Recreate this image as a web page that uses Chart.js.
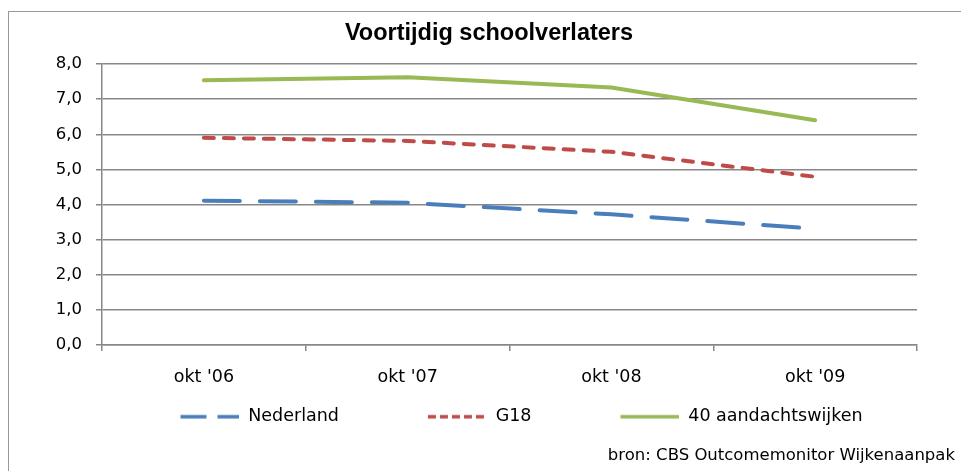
<!DOCTYPE html>
<html>
<head>
<meta charset="utf-8">
<script src="https://cdn.jsdelivr.net/npm/chart.js@4.4.1/dist/chart.umd.min.js"></script>
<style>
  html, body { margin: 0; padding: 0; background: #fff; overflow: hidden; }
  #frame { position: absolute; left: 8px; top: 11px; width: 1000px; height: 1000px;
           border-left: 1px solid #999; border-top: 1px solid #999; }
  #wrap { position: absolute; left: 0; top: 0; width: 961px; height: 471px; }
</style>
</head>
<body>
<div id="frame"></div>
<div id="wrap"><canvas id="chart"></canvas></div>
<script>
// data
const categories = ["okt '06", "okt '07", "okt '08", "okt '09"];
const nederland = [4.11, 4.05, 3.72, 3.31];
const g18 = [5.90, 5.81, 5.50, 4.79];
const aandachtswijken = [7.54, 7.62, 7.33, 6.40];
const seriesNames = ['Nederland', 'G18', '40 aandachtswijken'];
const yTickLabels = ['0,0', '1,0', '2,0', '3,0', '4,0', '5,0', '6,0', '7,0', '8,0'];
const titleText = 'Voortijdig schoolverlaters';
const sourceText = 'bron: CBS Outcomemonitor Wijkenaanpak';

const gridColor = '#878787';
const tickFont = { family: 'DejaVu Sans', size: 16.5 };

// little line samples for the legend (legend dashes are shorter than in the plot)
const legendLine = (color, dash) => {
	const c = document.createElement('canvas');
	c.width = 124;
	c.height = 8;
	const ctx = c.getContext('2d');
	ctx.strokeStyle = color;
	ctx.lineWidth = 3.5;
	ctx.setLineDash(dash);
	ctx.beginPath();
	ctx.moveTo(65, 4);
	ctx.lineTo(124, 4);
	ctx.stroke();
	return c;
};
const legendImages = [
	legendLine('#4a7ebb', [26, 11]),
	legendLine('#be4b48', [8, 4]),
	legendLine('#98b954', []),
];

const line = (label, data, color, dash) => ({
	label: label,
	data: data,
	borderColor: color,
	backgroundColor: color,
	borderWidth: 4,
	borderDash: dash,
	borderCapStyle: 'round',
	borderJoinStyle: 'round',
	pointRadius: 0,
	tension: 0,
	fill: false,
});

new Chart(document.getElementById('chart'), {
	type: 'line',
	data: {
		labels: categories,
		datasets: [
			line(seriesNames[0], nederland, '#4a7ebb', [36, 20]),
			line(seriesNames[1], g18, '#be4b48', [10, 10]),
			line(seriesNames[2], aandachtswijken, '#98b954', []),
		]
	},
	options: {
		responsive: true,
		maintainAspectRatio: false,
		animation: false,
		layout: { padding: { left: 23, right: 6, top: 0, bottom: 0 } },
		plugins: {
			title: {
				display: true,
				text: titleText,
				color: '#000',
				font: { family: 'Liberation Sans', size: 23.5, weight: 'bold' },
				padding: { top: 19.8, bottom: 16 },
			},
			subtitle: {
				display: true,
				position: 'bottom',
				align: 'end',
				text: sourceText,
				color: '#000',
				font: { family: 'DejaVu Sans', size: 16.5 },
				padding: { top: 9.9, bottom: 5.8 },
			},
			legend: {
				position: 'bottom',
				labels: {
					color: '#000',
					font: { family: 'DejaVu Sans', size: 17.5 },
					padding: 24,
					usePointStyle: true,
					pointStyleWidth: 124,
					generateLabels: (chart) => {
						const items = Chart.defaults.plugins.legend.labels.generateLabels(chart);
						items.forEach((it, i) => { it.pointStyle = legendImages[i]; });
						return items;
					}
				}
			},
			tooltip: { enabled: false },
		},
		scales: {
			x: {
				type: 'category',
				offset: true,
				grid: { offset: true, drawOnChartArea: false, drawTicks: true, tickLength: 6, color: gridColor, lineWidth: 1.5 },
				border: { display: true, color: gridColor, width: 1.5 },
				ticks: { color: '#000', font: { family: 'DejaVu Sans', size: 17.5 }, padding: 16, maxRotation: 0 },
				afterFit: (s) => { s.height = 39; },
			},
			y: {
				min: 0,
				max: 8,
				ticks: {
					stepSize: 1,
					color: '#000',
					font: tickFont,
					padding: 14,
					callback: (v, i) => yTickLabels[i],
				},
				grid: { color: gridColor, lineWidth: 1.5, tickLength: 6 },
				border: { display: true, color: gridColor, width: 1.5 },
				afterFit: (s) => { s.width = 79; },
			},
			// empty right axis, only keeps the plot off the right edge
			yRight: {
				position: 'right',
				grid: { display: false },
				ticks: { display: false },
				border: { display: false },
				afterFit: (s) => { s.width = 38; },
			}
		}
	}
});
</script>
</body>
</html>
